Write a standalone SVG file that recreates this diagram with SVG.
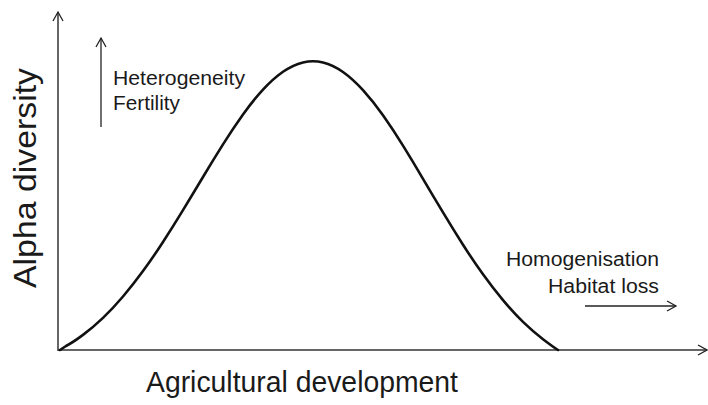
<svg xmlns="http://www.w3.org/2000/svg" width="708" height="405" viewBox="0 0 708 405">
<defs>
<marker id="open" markerWidth="12" markerHeight="12" refX="10" refY="6" orient="auto" markerUnits="userSpaceOnUse">
<path d="M1,1 L10,6 L1,11" fill="none" stroke="#222" stroke-width="1.3"/>
</marker>
<style>
text{font-family:"Liberation Sans",Arial,sans-serif;fill:#1a1a1a}
.ax{stroke:#333;stroke-width:1.5;fill:none}
.arr{stroke:#222;stroke-width:1.3;fill:none}
</style>
</defs>
<rect width="708" height="405" fill="#fff"/>
<g id="connectors">
<line class="ax" x1="58" y1="351" x2="58" y2="12" marker-end="url(#open)"/>
<line class="ax" x1="58" y1="350" x2="707" y2="350" marker-end="url(#open)"/>
<line class="arr" x1="101" y1="127" x2="101" y2="38" marker-end="url(#open)"/>
<line class="arr" x1="585" y1="306" x2="676" y2="306" marker-end="url(#open)"/>
</g>
<g id="curve">
<path fill="none" stroke="#111" stroke-width="2.6" stroke-linejoin="round" stroke-linecap="round" d="M60,350 L66,346 Q73,342.4 83,334.9 Q93,327.4 103,317.85 Q113,308.3 123,296.5 Q133,284.7 143,271.05 Q153,257.4 163,241.95 Q173,226.5 183,210.1 Q193,193.7 203,177 Q213,160.3 223,144.4 Q233,128.5 243,114.5 Q253,100.5 263,89.65 Q273,78.8 283,71.8 Q293,64.8 303,62.4 Q313,60 323,62.4 Q333,64.8 343,71.95 Q353,79.1 363,90.1 Q373,101.1 383,115.3 Q393,129.5 403,145.65 Q413,161.8 423,178.8 Q433,195.8 443,212.45 Q453,229.1 463,244.75 Q473,260.4 483,274.3 Q493,288.2 503,300.2 Q513,312.2 523,321.9 Q533,331.6 543,339.2 Q553,346.8 558,350"/>
</g>
<g id="y-label"><text transform="translate(36,178) rotate(-90)" text-anchor="middle" font-size="31" textLength="220" lengthAdjust="spacingAndGlyphs">Alpha diversity</text></g>
<g id="x-label"><text x="146" y="392" font-size="30" textLength="312" lengthAdjust="spacingAndGlyphs">Agricultural development</text></g>
<g id="left-note">
<text x="113" y="85" font-size="20" textLength="132" lengthAdjust="spacingAndGlyphs">Heterogeneity</text>
<text x="113" y="110" font-size="20" textLength="67" lengthAdjust="spacingAndGlyphs">Fertility</text>
</g>
<g id="right-note">
<text x="506" y="266" font-size="20" textLength="153" lengthAdjust="spacingAndGlyphs">Homogenisation</text>
<text x="548" y="293" font-size="20" textLength="111" lengthAdjust="spacingAndGlyphs">Habitat loss</text>
</g>
</svg>
